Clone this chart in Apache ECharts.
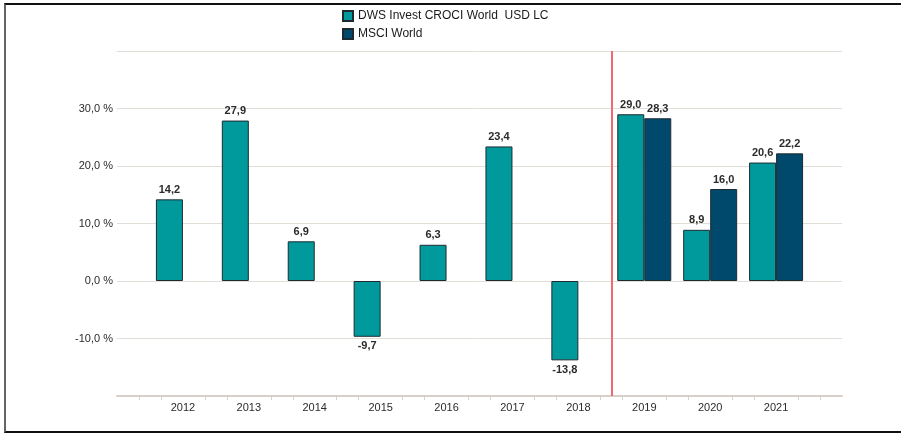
<!DOCTYPE html>
<html>
<head>
<meta charset="utf-8">
<script src="https://cdn.jsdelivr.net/npm/echarts@6/dist/echarts.min.js"></script>
<style>
body { margin: 0; background: #fff; }
#main { position: absolute; left: 0; top: 0; width: 901px; height: 433px; }
#frame { position: absolute; left: 4px; top: 3px; width: 897px; height: 426px;
  border-top: 2px solid #111; border-bottom: 2px solid #111; border-left: 2px solid #666;
  pointer-events: none; }
</style>
</head>
<body>
<div id="main"></div>
<div id="frame"></div>
<script>
// year categories, padded with an empty slot at each end
var years = ['2012', '2013', '2014', '2015', '2016', '2017', '2018', '2019', '2020', '2021'];
var dws = [14.2, 27.9, 6.9, -9.7, 6.3, 23.4, -13.8, 29.0, 8.9, 20.6];
var msci = [null, null, null, null, null, null, null, 28.3, 16.0, 22.2];
var yTicks = [-10, 0, 10, 20, 30];

var cats = [''].concat(years).concat([' ']);

function pad(arr) {
	return [null].concat(arr).concat([null]);
}

function withLabels(arr) {
	return pad(arr).map(function(v) {
		if (v == null) return null;
		return { value : v, label : { position : v < 0 ? 'bottom' : 'top' } };
	});
}

function fmt(v) {
	return v.toFixed(1).replace('.', ',');
}

var e = document.getElementById('main');
var myChart = echarts.init(e);

var barLabel = {
	show : true,
	distance : 4,
	color : '#2b2b2b',
	fontSize : 11,
	fontWeight : 'bold',
	fontFamily : 'Liberation Sans, Arial',
	formatter : function(p) {
		return fmt(p.value);
	}
};

myChart.setOption({
	animation : false,
	textStyle : { fontFamily : 'Liberation Sans, Arial' },
	legend : {
		orient : 'vertical',
		left : 342,
		top : 10,
		padding : 0,
		itemWidth : 10,
		itemHeight : 10,
		itemGap : 6,
		icon : 'rect',
		data : [ 'DWS Invest CROCI World  USD LC', 'MSCI World' ],
		textStyle : { color : '#1a1a1a', fontSize : 12 }
	},
	grid : { left : 117, right : 59, top : 51, bottom : 37 },
	xAxis : [ {
		type : 'category',
		data : cats,
		boundaryGap : false,
		axisLine : { onZero : false, lineStyle : { color : '#d6d1c8', width : 2 } },
		axisTick : { show : false },
		axisLabel : { color : '#2b2b2b', fontSize : 11, margin : 6, interval : 0 },
		splitLine : { show : false }
	}, {
		type : 'value',
		min : 0,
		max : 11,
		interval : 1,
		position : 'bottom',
		axisLine : { show : false, onZero : false },
		axisLabel : { show : false },
		axisTick : { show : false },
		minorTick : { show : true, splitNumber : 3, length : 4, lineStyle : { color : '#d6d1c8', width : 1 } },
		splitLine : { show : false }
	} ],
	yAxis : {
		type : 'value',
		min : -20,
		max : 40,
		interval : 10,
		axisLine : { show : false },
		axisTick : { show : false },
		axisLabel : {
			color : '#2b2b2b',
			fontSize : 11,
			margin : 4,
			formatter : function(v) {
				return yTicks.indexOf(v) >= 0 ? fmt(v) + ' %' : '';
			}
		},
		splitLine : { lineStyle : { color : '#e2ded7', width : 1 } }
	},
	series : [ {
		name : 'DWS Invest CROCI World  USD LC',
		type : 'bar',
		barWidth : 27,
		barGap : '0%',
		data : withLabels(dws),
		itemStyle : { color : '#00999c', borderColor : '#1d2b30', borderWidth : 1 },
		label : barLabel
	}, {
		name : 'MSCI World',
		type : 'bar',
		barWidth : 27,
		barGap : '0%',
		data : withLabels(msci),
		itemStyle : { color : '#00496d', borderColor : '#1d2b30', borderWidth : 1 },
		label : barLabel
	}, {
		name : 'divider',
		type : 'line',
		xAxisIndex : 1,
		data : [],
		markLine : {
			symbol : 'none',
			silent : true,
			label : { show : false },
			lineStyle : { color : '#f06a70', width : 2, type : 'solid' },
			data : [ { xAxis : 7.5 } ]
		}
	} ]
});
</script>
</body>
</html>
